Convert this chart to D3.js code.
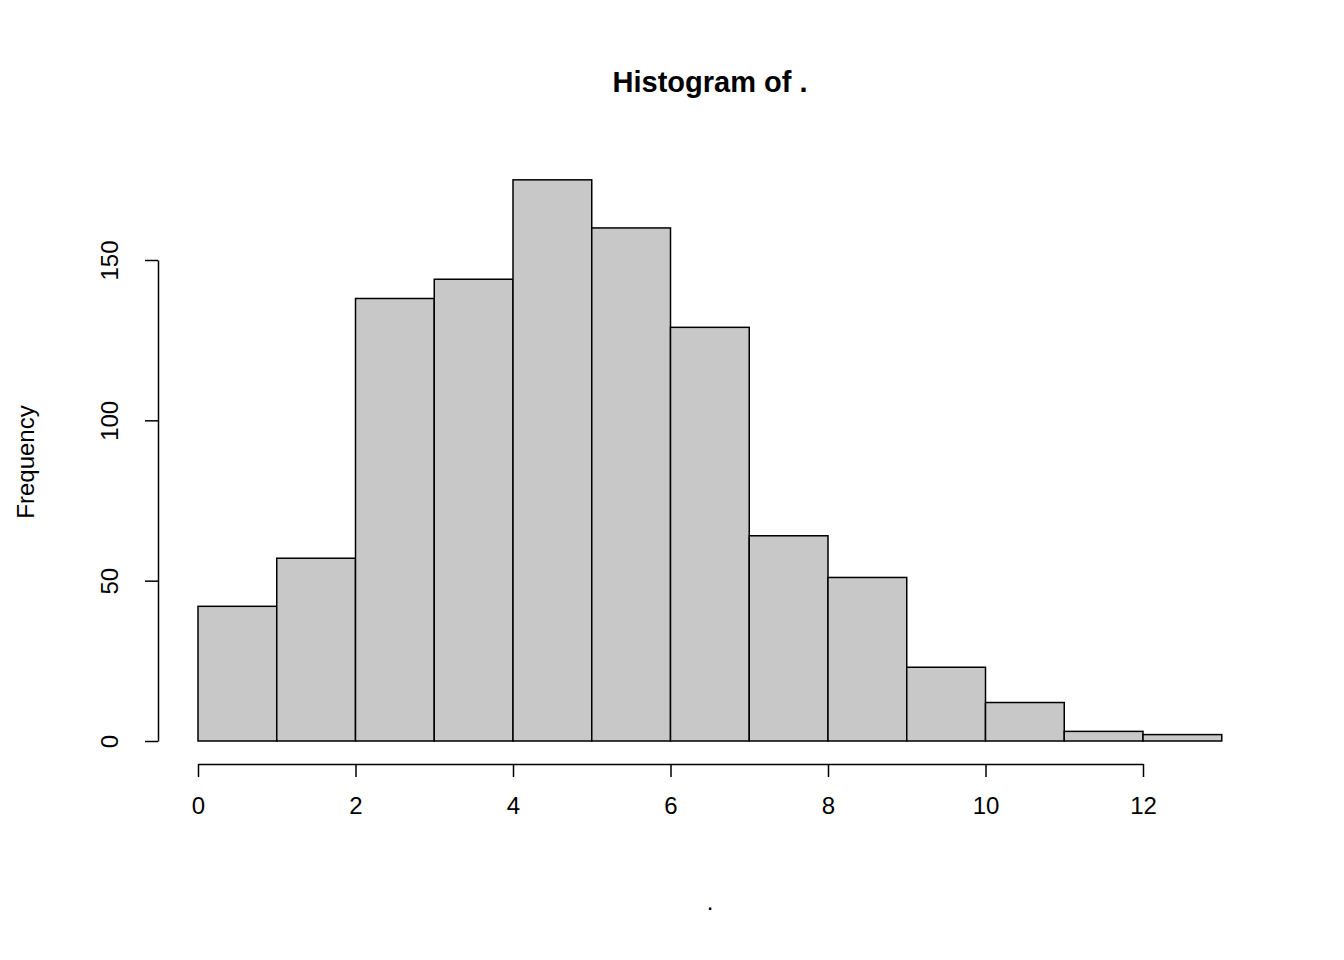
<!DOCTYPE html>
<html><head><meta charset="utf-8">
<script src="https://cdn.jsdelivr.net/npm/d3@7"></script>
<style>body{margin:0;background:#fff}text{font-family:"Liberation Sans",Arial,sans-serif}</style>
</head><body><svg id="c" width="1344" height="960"></svg>
<script>
// histogram bins
var binStarts = [0,1,2,3,4,5,6,7,8,9,10,11,12];
var counts = [42,57,138,144,175,160,129,64,51,23,12,3,2];
var xTicks = [0,2,4,6,8,10,12];
var yTicks = [0,50,100,150];

var svg = d3.select('#c');
var x = d3.scaleLinear().domain([0,12]).range([198,1143]);
var y = d3.scaleLinear().domain([0,150]).range([741,260]);

svg.selectAll('rect').data(counts).enter().append('rect')
  .attr('x', function(d,i){ return x(binStarts[i]); })
  .attr('width', function(d,i){ return x(binStarts[i]+1)-x(binStarts[i]); })
  .attr('y', function(d){ return y(d); })
  .attr('height', function(d){ return y(0)-y(d); })
  .attr('fill','#c8c8c8').attr('stroke','#000').attr('stroke-width',1.5);

var xa = svg.append('g').attr('transform','translate(0,764)')
  .call(d3.axisBottom(x).tickValues(xTicks).tickSize(13).tickPadding(20).tickSizeOuter(0));
var ya = svg.append('g').attr('transform','translate(158,0)')
  .call(d3.axisLeft(y).tickValues(yTicks).tickSize(13).tickSizeOuter(0));
[xa,ya].forEach(function(a){
  a.select('.domain').attr('stroke-width',1.5);
  a.selectAll('.tick line').attr('stroke-width',1.5);
  a.selectAll('text').attr('font-size',24).attr('fill','#000')
    .style('font-family','"Liberation Sans",Arial,sans-serif');
});
ya.selectAll('.tick text').attr('transform','rotate(-90)')
  .attr('x',0).attr('y',-48).attr('dy','0.35em').attr('text-anchor','middle');

svg.append('text').attr('x',710).attr('y',92).attr('text-anchor','middle')
  .attr('font-size',29).attr('font-weight','bold').text('Histogram of .');
svg.append('text').attr('transform','translate(34,462) rotate(-90)')
  .attr('text-anchor','middle').attr('font-size',24).text('Frequency');
svg.append('text').attr('x',710).attr('y',910).attr('text-anchor','middle')
  .attr('font-size',24).text('.');
</script></body></html>
